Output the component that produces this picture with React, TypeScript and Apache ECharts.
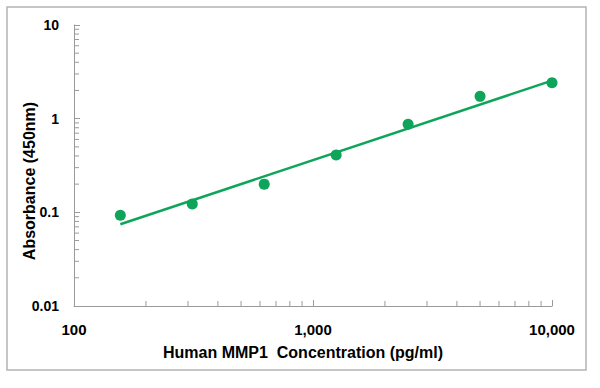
import React, { useEffect, useRef } from "react";
import * as echarts from "echarts";

const concentrations = [156.25, 312.5, 625, 1250, 2500, 5000, 10000];
const absorbance = [0.093, 0.123, 0.2, 0.41, 0.87, 1.73, 2.42];
const fitX = [156.25, 10000];
const fitY = [0.0745, 2.55];
const xTickValues = [100, 1000, 10000];
const xTickLabels = ["100", "1,000", "10,000"];
const yTickValues = [0.01, 0.1, 1, 10];
const yTickLabels = ["0.01", "0.1", "1", "10"];
const xTitle = "Human MMP1  Concentration (pg/ml)";
const yTitle = "Absorbance (450nm)";

const GREEN = "#0ea55a";
const AXIS = "#9a9a9a";
const FONT = "'Liberation Sans', Arial, sans-serif";

function minorTicks(decades: number[]) {
  const out: number[] = [];
  decades.forEach((d) => {
    for (let m = 2; m <= 9; m++) out.push(m * d);
  });
  return out;
}

function lookup(values: number[], labels: string[], v: number) {
  let best = 0;
  let bd = Infinity;
  values.forEach((t, i) => {
    const d = Math.abs(Math.log10(t) - Math.log10(v));
    if (d < bd) {
      bd = d;
      best = i;
    }
  });
  return bd < 0.01 ? labels[best] : "";
}

export default function App() {
  const ref = useRef<HTMLDivElement>(null);
  useEffect(() => {
    if (!ref.current) return;
    const chart = echarts.init(ref.current, undefined, { renderer: "svg" });
    const xMinor = minorTicks([100, 1000]).map((v) => [v, 0.01]);
    const yMinor = minorTicks([0.01, 0.1, 1]).map((v) => [100, v]);
    chart.setOption({
      animation: false,
      backgroundColor: "#ffffff",
      grid: { left: 74, right: 48, top: 25, bottom: 82, containLabel: false },
      xAxis: {
        type: "log",
        logBase: 10,
        min: 100,
        max: 10000,
        splitLine: { show: false },
        axisLine: { lineStyle: { color: AXIS, width: 1 } },
        axisTick: { inside: true, length: 6, lineStyle: { color: AXIS } },
        axisLabel: {
          margin: 16,
          fontFamily: FONT,
          fontWeight: "bold",
          fontSize: 15,
          color: "#000",
          formatter: (v: number) => lookup(xTickValues, xTickLabels, v),
        },
      },
      yAxis: {
        type: "log",
        logBase: 10,
        min: 0.01,
        max: 10,
        splitLine: { show: false },
        axisLine: { show: true, lineStyle: { color: AXIS, width: 1 } },
        axisTick: { show: true, inside: true, length: 6, lineStyle: { color: AXIS } },
        axisLabel: {
          margin: 15,
          fontFamily: FONT,
          fontWeight: "bold",
          fontSize: 14,
          color: "#000",
          formatter: (v: number) => lookup(yTickValues, yTickLabels, v),
        },
      },
      graphic: [
        {
          type: "rect",
          shape: { x: 7, y: 7, width: 579, height: 363 },
          style: { fill: "none", stroke: "#b4b4b4", lineWidth: 1.5 },
          silent: true,
        },
        {
          type: "text",
          x: 303,
          y: 352,
          style: {
            text: xTitle,
            font: `bold 16px ${FONT}`,
            fill: "#000",
            align: "center",
            verticalAlign: "middle",
          },
        },
        {
          type: "text",
          x: 29,
          y: 181,
          rotation: Math.PI / 2,
          style: {
            text: yTitle,
            font: `bold 16px ${FONT}`,
            fill: "#000",
            align: "center",
            verticalAlign: "middle",
          },
        },
      ],
      series: [
        {
          type: "custom",
          silent: true,
          clip: false,
          data: xMinor,
          renderItem: (_p: any, api: any) => {
            const p = api.coord([api.value(0), api.value(1)]);
            return {
              type: "line",
              shape: { x1: p[0], y1: p[1], x2: p[0], y2: p[1] - 5 },
              style: { stroke: AXIS, lineWidth: 1 },
            };
          },
        },
        {
          type: "custom",
          silent: true,
          clip: false,
          data: yMinor,
          renderItem: (_p: any, api: any) => {
            const p = api.coord([api.value(0), api.value(1)]);
            return {
              type: "line",
              shape: { x1: p[0], y1: p[1], x2: p[0] + 5, y2: p[1] },
              style: { stroke: AXIS, lineWidth: 1 },
            };
          },
        },
        {
          type: "line",
          data: fitX.map((x, i) => [x, fitY[i]]),
          showSymbol: false,
          symbol: "none",
          lineStyle: { color: GREEN, width: 2.5 },
          silent: true,
        },
        {
          type: "scatter",
          data: concentrations.map((x, i) => [x, absorbance[i]]),
          symbol: "circle",
          symbolSize: 11,
          itemStyle: { color: GREEN, opacity: 1 },
        },
      ],
    });
    return () => chart.dispose();
  }, []);
  return (
    <div
      ref={ref}
      style={{ position: "fixed", left: 0, top: 0, width: 600, height: 388 }}
    />
  );
}
